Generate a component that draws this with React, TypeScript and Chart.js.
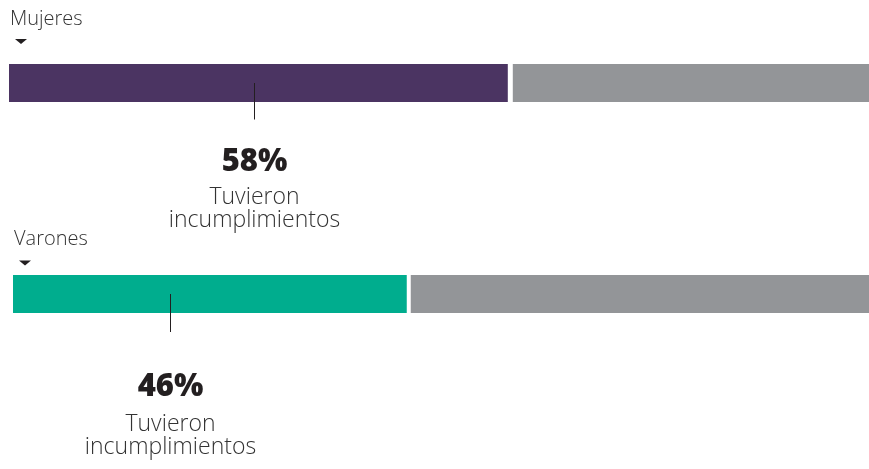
import { useEffect, useRef } from 'react';
import { Chart, registerables } from 'chart.js';

Chart.register(...registerables);

// ---- data ----
const groups = ['Mujeres', 'Varones'];
const withBreach = [58, 46];
const withoutBreach = [42, 54];
const seriesLabels = ['Tuvieron incumplimientos', 'Sin incumplimientos'];
const calloutLines = ['Tuvieron', 'incumplimientos'];

// ---- layout / style ----
const W = 869;
const H = 469;
const MAIN_COLORS = ['#4b3462', '#00ad8e'];
const REST_COLOR = '#939598';
const INK = '#231f20';
const TEXT = '#333333';
const FONT = '"Open Sans", "DejaVu Sans", sans-serif';

const PANELS = [
  { left: 9, barTop: 64, barBottom: 102, gap: 5, labelY: 25, triX: 21, triY: 39, calloutX: 254.5, leaderEnd: 119.5, pctY: 171, line1Y: 204, line2Y: 227 },
  { left: 13, barTop: 275, barBottom: 313, gap: 4, labelY: 245, triX: 25, triY: 260.5, calloutX: 170.5, leaderEnd: 332, pctY: 396, line1Y: 431, line2Y: 454 },
];

function Panel({ index }: { index: number }) {
  const ref = useRef<HTMLCanvasElement | null>(null);

  useEffect(() => {
    const canvas = ref.current;
    if (!canvas) return;
    const p = PANELS[index];

    const annotations = {
      id: 'annotations',
      afterDatasetsDraw(chart: any) {
        const ctx = chart.ctx as CanvasRenderingContext2D;
        const bar = chart.getDatasetMeta(0).data[0];
        ctx.save();
        // group label
        ctx.fillStyle = TEXT;
        ctx.font = `300 20px ${FONT}`;
        ctx.textAlign = 'left';
        ctx.textBaseline = 'alphabetic';
        ctx.fillText(groups[index], chart.chartArea.left + 1, p.labelY);
        // marker triangle
        ctx.fillStyle = INK;
        ctx.beginPath();
        ctx.moveTo(p.triX - 6, p.triY);
        ctx.lineTo(p.triX + 6, p.triY);
        ctx.lineTo(p.triX, p.triY + 5);
        ctx.closePath();
        ctx.fill();
        // leader line
        ctx.strokeStyle = INK;
        ctx.lineWidth = 1;
        ctx.beginPath();
        ctx.moveTo(p.calloutX, bar.y);
        ctx.lineTo(p.calloutX, p.leaderEnd);
        ctx.stroke();
        // percentage
        ctx.textAlign = 'center';
        ctx.fillStyle = INK;
        ctx.font = `800 31px ${FONT}`;
        ctx.fillText(`${withBreach[index]}%`, p.calloutX, p.pctY);
        // description
        ctx.fillStyle = TEXT;
        ctx.font = `300 23px ${FONT}`;
        ctx.fillText(calloutLines[0], p.calloutX, p.line1Y);
        ctx.fillText(calloutLines[1], p.calloutX, p.line2Y);
        ctx.restore();
      },
    };

    const chart = new Chart(canvas, {
      type: 'bar',
      data: {
        labels: [groups[index]],
        datasets: [
          {
            label: seriesLabels[0],
            data: [withBreach[index]],
            backgroundColor: MAIN_COLORS[index],
            borderWidth: 0,
            barThickness: p.barBottom - p.barTop,
            inflateAmount: 0,
          },
          {
            label: seriesLabels[1],
            data: [withoutBreach[index]],
            backgroundColor: REST_COLOR,
            borderColor: '#ffffff',
            borderWidth: { left: p.gap, right: 0, top: 0, bottom: 0 },
            borderSkipped: false,
            barThickness: p.barBottom - p.barTop,
            inflateAmount: 0,
          },
        ],
      },
      options: {
        indexAxis: 'y',
        responsive: false,
        animation: false,
        layout: { padding: { left: p.left, right: 0, top: p.barTop, bottom: H - p.barBottom } },
        scales: {
          x: { stacked: true, min: 0, max: 100, display: false },
          y: { stacked: true, display: false },
        },
        plugins: { legend: { display: false }, tooltip: { enabled: false } },
      },
      plugins: [annotations],
    } as any);

    return () => chart.destroy();
  }, [index]);

  return (
    <canvas
      ref={ref}
      width={W}
      height={H}
      style={{ position: 'absolute', left: 0, top: 0, width: W, height: H }}
    />
  );
}

export default function App() {
  return (
    <div style={{ position: 'fixed', left: 0, top: 0, width: W, height: H, background: '#ffffff' }}>
      {groups.map((_, i) => (
        <Panel key={i} index={i} />
      ))}
    </div>
  );
}
